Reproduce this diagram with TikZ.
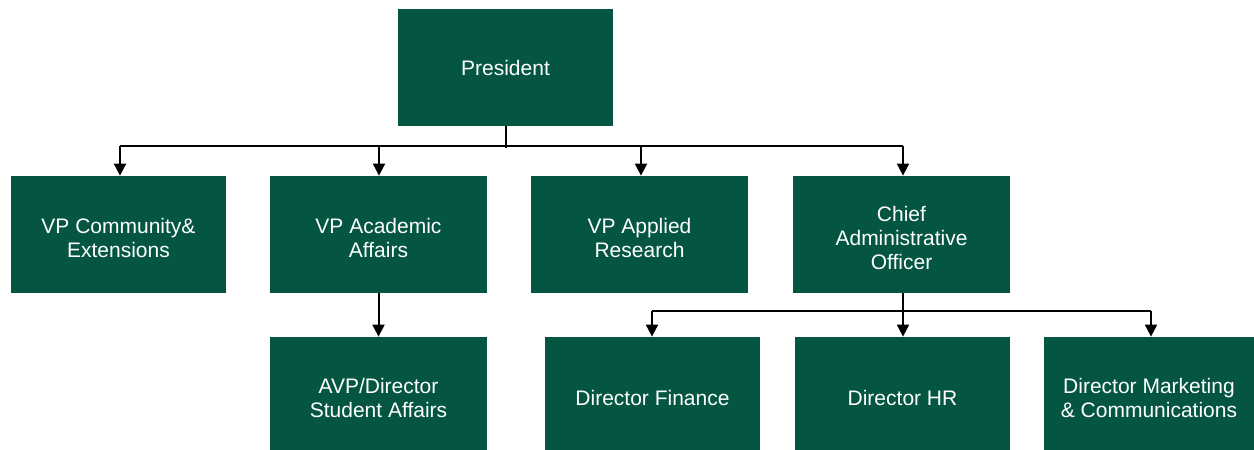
\documentclass[tikz,border=0pt]{standalone}
\usepackage{fontspec}
\setmainfont{Liberation Sans}
\usetikzlibrary{arrows.meta}
\definecolor{boxgreen}{RGB}{4,86,66}
\begin{document}
\begin{tikzpicture}[x=0.5pt,y=-0.5pt,
  box/.style={rectangle, fill=boxgreen, draw=none, inner sep=0pt},
  txt/.style={text=white, align=center, font=\fontsize{10.5pt}{12pt}\selectfont, inner sep=0pt},
  conn/.style={draw=black, line width=1pt},
  arr/.style={conn, -{Triangle[length=6pt,width=6pt]}}]
\useasboundingbox (0,0) rectangle (1254,450);
\node[box, minimum width=107.5pt, minimum height=58.5pt] (pres) at (505.5,67.5) {};
\node[txt] (presT) at (pres.center) {President};
\node[box, minimum width=107.5pt, minimum height=58.5pt] (vpc) at (118.5,234.5) {};
\node[txt] (vpcT) at ([yshift=-1.5pt]vpc.center) {VP Community\&\\Extensions};
\node[box, minimum width=108.5pt, minimum height=58.5pt] (vpa) at (378.5,234.5) {};
\node[txt] (vpaT) at ([yshift=-1.5pt]vpa.center) {VP Academic\\Affairs};
\node[box, minimum width=108.5pt, minimum height=58.5pt] (vpr) at (639.5,234.5) {};
\node[txt] (vprT) at ([yshift=-1.5pt]vpr.center) {VP Applied\\Research};
\node[box, minimum width=108.5pt, minimum height=58.5pt] (cao) at (901.5,234.5) {};
\node[txt] (caoT) at ([yshift=-1.5pt]cao.center) {Chief\\Administrative\\Officer};
\node[box, minimum width=108.5pt, minimum height=61pt] (avp) at (378.5,398) {};
\node[txt] (avpT) at (avp.center) {AVP/Director\\Student Affairs};
\node[box, minimum width=107.5pt, minimum height=61pt] (fin) at (652.5,398) {};
\node[txt] (finT) at (fin.center) {Director Finance};
\node[box, minimum width=107.5pt, minimum height=61pt] (hr) at (902.5,398) {};
\node[txt] (hrT) at (hr.center) {Director HR};
\node[box, minimum width=105pt, minimum height=61pt] (mkt) at (1149,398) {};
\node[txt] (mktT) at (mkt.center) {Director Marketing\\\& Communications};
% president bus
\coordinate (busL) at (120,146);
\coordinate (busA) at (379,146);
\coordinate (busB) at (641,146);
\coordinate (busR) at (903,146);
\draw[conn] (pres.south) -- (pres.south |- 0,148);
\draw[conn] (busL) -- (busR);
\draw[arr] (busL) -- (busL |- vpc.north);
\draw[arr] (busA) -- (busA |- vpa.north);
\draw[arr] (busB) -- (busB |- vpr.north);
\draw[arr] (busR) -- (busR |- cao.north);
% academic
\draw[arr] (avp.north |- vpa.south) -- (avp.north);
% CAO bus
\coordinate (cL) at (652,311);
\coordinate (cR) at (1151,311);
\coordinate (cM) at (903,311);
\draw[conn] (cao.south -| cM) -- (cM);
\draw[conn] (cL) -- (cR);
\draw[arr] (cL) -- (cL |- fin.north);
\draw[arr] (cM) -- (cM |- hr.north);
\draw[arr] (cR) -- (cR |- mkt.north);
\end{tikzpicture}
\end{document}
